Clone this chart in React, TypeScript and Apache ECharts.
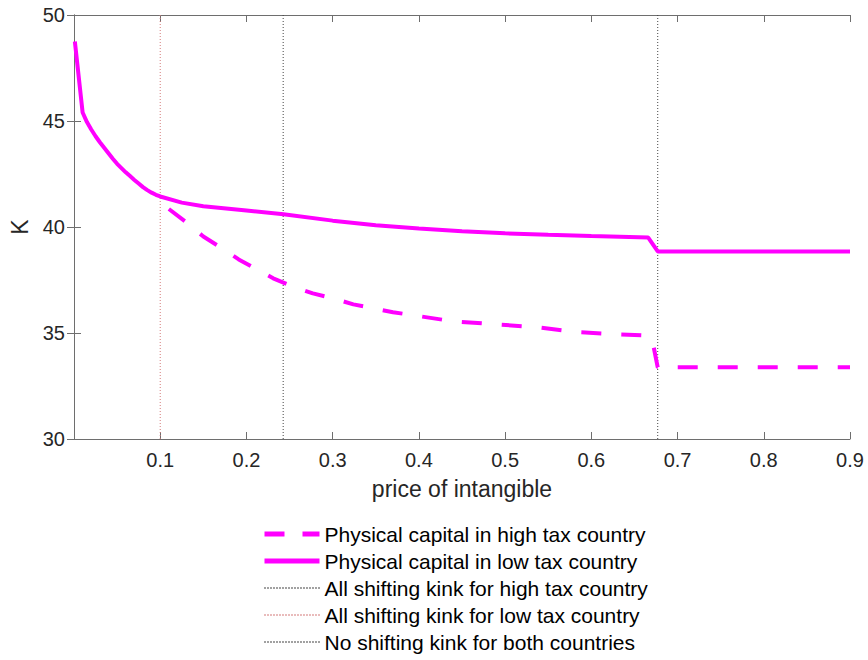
import React, { useEffect, useRef } from "react";
import * as echarts from "echarts";

// Physical capital in low tax country (solid)
const lowTaxX = [0.001, 0.01, 0.015, 0.02, 0.025, 0.03, 0.035, 0.04, 0.045, 0.05, 0.055, 0.06, 0.065, 0.07, 0.075, 0.08, 0.085, 0.09, 0.095, 0.1, 0.125, 0.15, 0.2, 0.243, 0.3, 0.35, 0.4, 0.45, 0.5, 0.55, 0.6, 0.666, 0.677, 0.9];
const lowTaxK = [48.75, 45.4, 44.95, 44.6, 44.28, 44.0, 43.74, 43.48, 43.22, 42.98, 42.78, 42.58, 42.4, 42.22, 42.05, 41.88, 41.74, 41.62, 41.52, 41.44, 41.15, 40.98, 40.78, 40.6, 40.3, 40.08, 39.93, 39.8, 39.7, 39.63, 39.57, 39.5, 38.85, 38.85];

// Physical capital in high tax country (dashed)
const highTaxX = [0.11, 0.131, 0.15, 0.17, 0.191, 0.21, 0.231, 0.253, 0.277, 0.3, 0.324, 0.37, 0.44, 0.489, 0.537, 0.584, 0.631, 0.665, 0.672, 0.677, 0.9];
const highTaxK = [40.85, 40.2, 39.55, 39.04, 38.47, 38.05, 37.58, 37.2, 36.87, 36.64, 36.35, 35.98, 35.55, 35.41, 35.27, 35.04, 34.94, 34.88, 34.4, 33.38, 33.38];

// Kink positions (price of intangible)
const kinkHighTax = 0.2426;
const kinkLowTax = 0.1;
const kinkNone = 0.677;

const kRange = [30, 50];
const seriesNames = [
  "Physical capital in high tax country",
  "Physical capital in low tax country",
  "All shifting kink for high tax country",
  "All shifting kink for low tax country",
  "No shifting kink for both countries",
];

export default function App() {
  const ref = useRef<HTMLDivElement>(null);
  useEffect(() => {
    const chart = echarts.init(ref.current!, null, { renderer: "svg" });
    const font = "'Liberation Sans', Arial, Helvetica, sans-serif";
    const textColor = "#262626";
    const axisLineColor = "#6e6e6e";
    const magenta = "#ff00ff";

    const commonAxis = {
      axisLine: { show: true, lineStyle: { color: axisLineColor, width: 1 } },
      axisTick: { show: true, inside: true, length: 7, lineStyle: { color: axisLineColor, width: 1 } },
      splitLine: { show: false },
    };

    const zip = (xs: number[], ys: number[]) => xs.map((x, i) => [x, ys[i]]);
    const vline = (x: number) => kRange.map((k) => [x, k]);

    chart.setOption({
      animation: false,
      backgroundColor: "#ffffff",
      textStyle: { fontFamily: font },
      grid: { left: 74, right: 18, top: 15, bottom: 221, containLabel: false },
      xAxis: [
        {
          type: "value",
          min: 0,
          max: 0.9,
          interval: 0.1,
          position: "bottom",
          name: "price of intangible",
          nameLocation: "middle",
          nameGap: 38,
          nameTextStyle: { fontSize: 23, color: textColor, fontFamily: font },
          axisLabel: {
            fontSize: 20,
            color: textColor,
            fontFamily: font,
            margin: 11,
            formatter: (v: number) => (v < 0.05 ? "" : String(Math.round(v * 10) / 10)),
          },
          ...commonAxis,
        },
        {
          type: "value",
          min: 0,
          max: 0.9,
          interval: 0.1,
          position: "top",
          axisLabel: { show: false },
          ...commonAxis,
        },
      ],
      yAxis: [
        {
          type: "value",
          min: kRange[0],
          max: kRange[1],
          interval: 5,
          position: "left",
          name: "K",
          nameLocation: "middle",
          nameGap: 41,
          nameTextStyle: { fontSize: 23, color: textColor, fontFamily: font },
          axisLabel: { fontSize: 20, color: textColor, fontFamily: font, margin: 9 },
          ...commonAxis,
        },
        {
          type: "value",
          min: kRange[0],
          max: kRange[1],
          interval: 5,
          position: "right",
          axisLabel: { show: false },
          ...commonAxis,
        },
      ],
      legend: {
        orient: "vertical",
        left: 262,
        top: 523,
        padding: 0,
        itemWidth: 55,
        itemHeight: 12,
        itemGap: 5,
        data: [
          { name: seriesNames[0], lineStyle: { width: 5, type: [20, 18] } },
          { name: seriesNames[1], lineStyle: { width: 5 } },
          { name: seriesNames[2] },
          { name: seriesNames[3] },
          { name: seriesNames[4] },
        ],
        itemStyle: { opacity: 0 },
        textStyle: { fontSize: 21, color: "#000", fontFamily: font, lineHeight: 22 },
      },
      series: [
        {
          name: seriesNames[0],
          type: "line",
          data: zip(highTaxX, highTaxK),
          symbol: "none",
          z: 3,
          itemStyle: { color: magenta },
          lineStyle: { color: magenta, width: 4, type: [20, 20] },
        },
        {
          name: seriesNames[1],
          type: "line",
          data: zip(lowTaxX, lowTaxK),
          symbol: "none",
          z: 3,
          itemStyle: { color: magenta },
          lineStyle: { color: magenta, width: 4, type: "solid" },
        },
        {
          name: seriesNames[2],
          type: "line",
          data: vline(kinkHighTax),
          symbol: "none",
          z: 2,
          itemStyle: { color: "#444444" },
          lineStyle: { color: "#444444", width: 1, type: [1, 2] },
        },
        {
          name: seriesNames[3],
          type: "line",
          data: vline(kinkLowTax),
          symbol: "none",
          z: 2,
          itemStyle: { color: "#d47a7a" },
          lineStyle: { color: "#d47a7a", width: 1, type: [1, 2] },
        },
        {
          name: seriesNames[4],
          type: "line",
          data: vline(kinkNone),
          symbol: "none",
          z: 2,
          itemStyle: { color: "#444444" },
          lineStyle: { color: "#444444", width: 1, type: [1, 2] },
        },
      ],
    });
    return () => chart.dispose();
  }, []);
  return (
    <div
      ref={ref}
      style={{ position: "fixed", left: 0, top: 0, width: 868, height: 660, background: "#fff" }}
    />
  );
}
